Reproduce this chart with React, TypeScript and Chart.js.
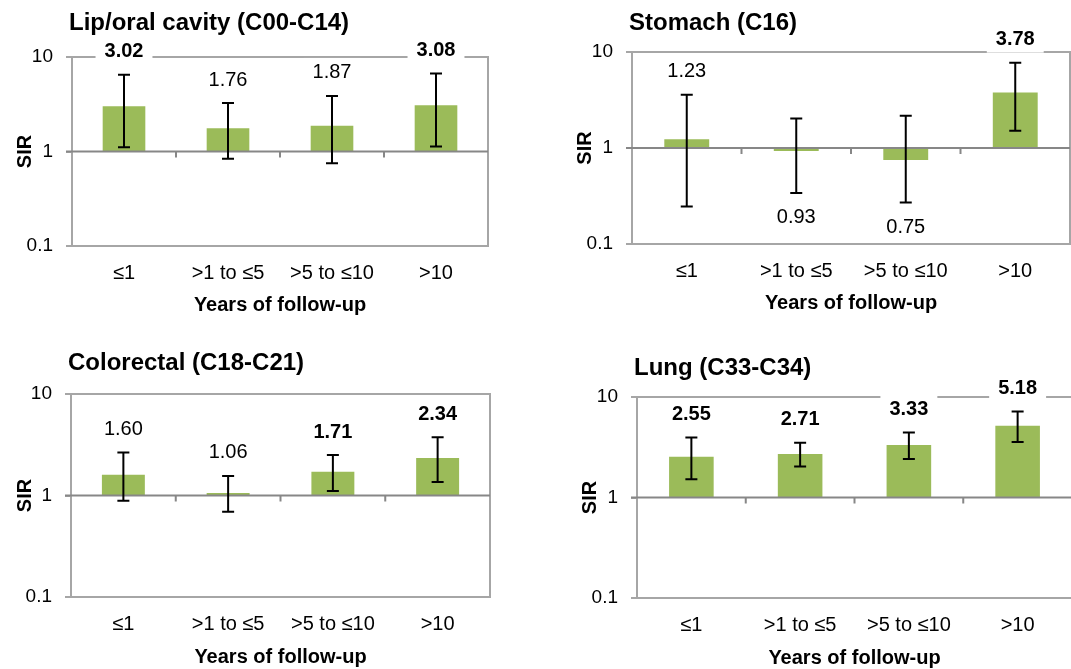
import React, { useEffect, useRef } from "react";
import { Chart, registerables } from "chart.js";

Chart.register(...registerables);
Chart.defaults.font.family = "'Liberation Sans', Arial, sans-serif";
Chart.defaults.color = "#000";

// ---------- data ----------
const categories = ["≤1", ">1 to ≤5", ">5 to ≤10", ">10"];
const yTickValues = [0.1, 1, 10];
const baseline = 1;

const lipSIR = [3.02, 1.76, 1.87, 3.08];
const lipLow = [1.11, 0.84, 0.75, 1.13];
const lipHigh = [6.5, 3.26, 3.87, 6.7];
const lipSignificant = [true, false, false, true];

const stomachSIR = [1.23, 0.93, 0.75, 3.78];
const stomachLow = [0.246, 0.34, 0.27, 1.51];
const stomachHigh = [3.58, 2.03, 2.17, 7.75];
const stomachSignificant = [false, false, false, true];

const colorectalSIR = [1.6, 1.06, 1.71, 2.34];
const colorectalLow = [0.89, 0.69, 1.11, 1.36];
const colorectalHigh = [2.65, 1.56, 2.5, 3.75];
const colorectalSignificant = [false, false, true, true];

const lungSIR = [2.55, 2.71, 3.33, 5.18];
const lungLow = [1.52, 2.03, 2.41, 3.56];
const lungHigh = [3.95, 3.5, 4.43, 7.17];
const lungSignificant = [true, true, true, true];

// ---------- layout / style ----------
type Panel = {
  title: string;
  sir: number[];
  low: number[];
  high: number[];
  sig: boolean[];
  x: number; y: number; w: number; h: number;
  l: number; r: number; t: number; b: number;
  titleY: number; xTitleY: number; sirX: number;
};

const panels: Panel[] = [
  { title: "Lip/oral cavity (C00-C14)", sir: lipSIR, low: lipLow, high: lipHigh, sig: lipSignificant,
    x: 0, y: 0, w: 540, h: 330, l: 72, r: 488, t: 57, b: 246, titleY: 23, xTitleY: 305, sirX: 25 },
  { title: "Stomach (C16)", sir: stomachSIR, low: stomachLow, high: stomachHigh, sig: stomachSignificant,
    x: 540, y: 0, w: 531, h: 330, l: 92, r: 530, t: 52, b: 244, titleY: 23, xTitleY: 303, sirX: 45 },
  { title: "Colorectal (C18-C21)", sir: colorectalSIR, low: colorectalLow, high: colorectalHigh, sig: colorectalSignificant,
    x: 0, y: 340, w: 540, h: 329, l: 71, r: 490, t: 54, b: 257, titleY: 23, xTitleY: 317, sirX: 25 },
  { title: "Lung (C33-C34)", sir: lungSIR, low: lungLow, high: lungHigh, sig: lungSignificant,
    x: 540, y: 340, w: 534, h: 329, l: 97, r: 532, t: 57, b: 258, titleY: 28, xTitleY: 318, sirX: 50 },
];

const BAR = "#9BBB59";
const FRAME = "#A6A6A6";
const AXIS = "#878787";
const FONT = "'Liberation Sans', Arial, sans-serif";

function makeOverlay(p: Panel) {
  return {
    id: "overlay",
    afterDatasetsDraw(chart: any) {
      const ctx = chart.ctx as CanvasRenderingContext2D;
      const a = chart.chartArea;
      const xs = chart.scales.x;
      const ys = chart.scales.y;
      ctx.save();
      // frame (top, right, bottom)
      ctx.strokeStyle = FRAME;
      ctx.lineWidth = 2;
      ctx.beginPath();
      ctx.moveTo(a.left, a.top);
      ctx.lineTo(a.right, a.top);
      ctx.lineTo(a.right, a.bottom);
      ctx.lineTo(a.left - 6, a.bottom);
      ctx.stroke();
      // baseline axis at 1 with tick marks
      const y1 = ys.getPixelForValue(baseline);
      ctx.strokeStyle = AXIS;
      ctx.beginPath();
      ctx.moveTo(a.left - 6, y1);
      ctx.lineTo(a.right, y1);
      for (let i = 0; i < categories.length - 1; i++) {
        const bx = (xs.getPixelForValue(i) + xs.getPixelForValue(i + 1)) / 2;
        ctx.moveTo(bx, y1);
        ctx.lineTo(bx, y1 + 6);
      }
      ctx.stroke();
      // error bars
      ctx.strokeStyle = "#000";
      ctx.lineWidth = 2;
      for (let i = 0; i < categories.length; i++) {
        const cx = xs.getPixelForValue(i);
        const yl = ys.getPixelForValue(p.low[i]);
        const yh = ys.getPixelForValue(p.high[i]);
        ctx.beginPath();
        ctx.moveTo(cx, yl);
        ctx.lineTo(cx, yh);
        ctx.moveTo(cx - 6, yl);
        ctx.lineTo(cx + 6, yl);
        ctx.moveTo(cx - 6, yh);
        ctx.lineTo(cx + 6, yh);
        ctx.stroke();
      }
      // value labels
      ctx.textAlign = "center";
      ctx.textBaseline = "middle";
      for (let i = 0; i < categories.length; i++) {
        const cx = xs.getPixelForValue(i);
        const v = p.sir[i];
        const cy = v >= baseline ? ys.getPixelForValue(p.high[i]) - 24 : ys.getPixelForValue(p.low[i]) + 24;
        ctx.font = `${p.sig[i] ? "bold " : ""}20px ${FONT}`;
        const txt = v.toFixed(2);
        const tw = ctx.measureText(txt).width;
        ctx.fillStyle = "#fff";
        ctx.fillRect(cx - tw / 2 - 9, cy - 14, tw + 18, 28);
        ctx.fillStyle = "#000";
        ctx.fillText(txt, cx, cy + 1);
      }
      // panel title
      ctx.font = `bold 24px ${FONT}`;
      ctx.textAlign = "left";
      ctx.fillText(p.title, a.left - 3, p.titleY);
      ctx.restore();
    },
  };
}

function PanelChart({ p }: { p: Panel }) {
  const ref = useRef<HTMLCanvasElement | null>(null);
  useEffect(() => {
    if (!ref.current) return;
    const chart = new Chart(ref.current, {
      type: "bar",
      data: {
        labels: categories,
        datasets: [
          {
            data: p.sir.map((v) => [baseline, v]) as any,
            backgroundColor: BAR,
            borderWidth: 0,
            categoryPercentage: 1,
            barPercentage: 0.41,
          },
        ],
      },
      options: {
        animation: false,
        responsive: false,
        maintainAspectRatio: false,
        layout: { padding: { left: 0, top: p.t, right: p.w - p.r, bottom: p.h - (p.xTitleY + 12) } },
        plugins: { legend: { display: false }, tooltip: { enabled: false }, title: { display: false } },
        scales: {
          x: {
            grid: { display: false, drawTicks: false },
            border: { display: false },
            ticks: { font: { size: 20 }, color: "#000", padding: 15, maxRotation: 0, autoSkip: false },
            title: { display: true, text: "Years of follow-up", color: "#000", font: { size: 20, weight: "bold" }, padding: { top: 0, bottom: 0 } },
            afterFit: (s: any) => { s.height = p.xTitleY + 12 - p.b; },
          },
          y: {
            type: "logarithmic",
            min: 0.1,
            max: 10,
            afterBuildTicks: (s: any) => { s.ticks = yTickValues.map((v) => ({ value: v })); },
            ticks: { callback: (v: any) => String(v), font: { size: 19 }, color: "#000", padding: 13 },
            grid: { drawOnChartArea: false, drawTicks: true, tickLength: 6, color: FRAME, lineWidth: 2 },
            border: { display: true, color: FRAME, width: 2 },
            title: { display: true, text: "SIR", color: "#000", font: { size: 20, weight: "bold" }, padding: { top: p.sirX - 12, bottom: 0 } },
            afterFit: (s: any) => { s.width = p.l; },
          },
        },
      } as any,
      plugins: [makeOverlay(p)],
    });
    return () => chart.destroy();
  }, [p]);
  return (
    <canvas
      ref={ref}
      width={p.w}
      height={p.h}
      style={{ position: "absolute", left: p.x, top: p.y, width: p.w, height: p.h }}
    />
  );
}

export default function App() {
  return (
    <div style={{ position: "fixed", left: 0, top: 0, width: 1071, height: 669, overflow: "hidden", background: "#fff" }}>
      {panels.map((p) => (
        <PanelChart key={p.title} p={p} />
      ))}
    </div>
  );
}
